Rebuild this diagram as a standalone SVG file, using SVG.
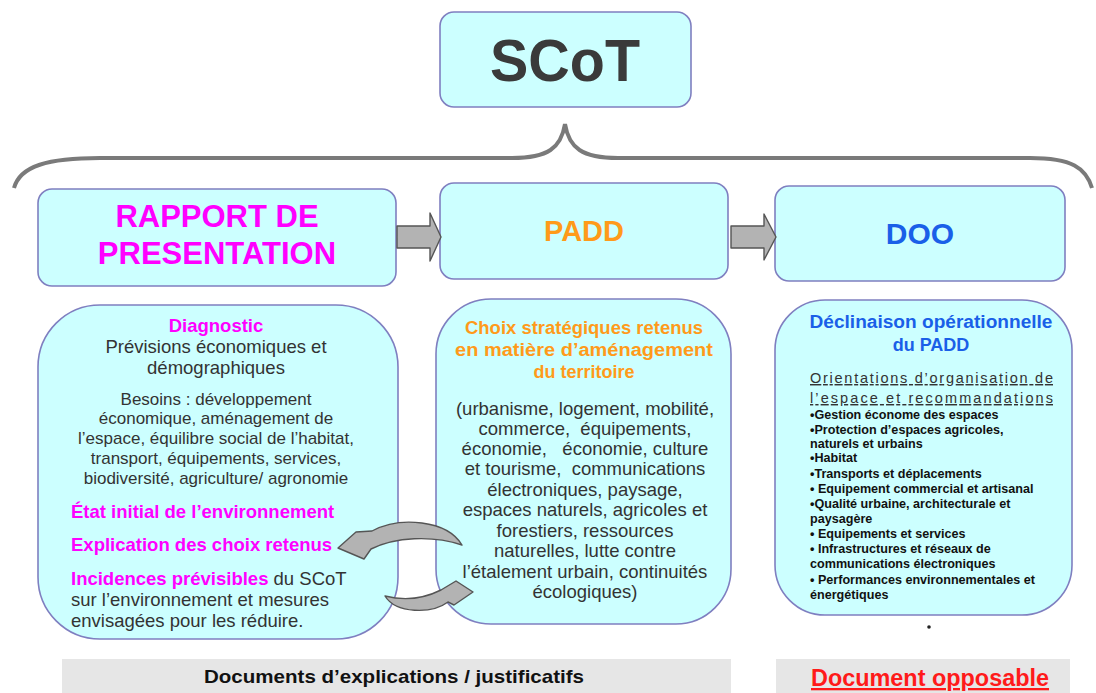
<svg xmlns="http://www.w3.org/2000/svg" width="1096" height="693" viewBox="0 0 1096 693">
<style>
.box{fill:#ccffff;stroke:#7f7fc0;stroke-width:1.6}
.t{font-family:"Liberation Sans",Arial,sans-serif}
.b{font-weight:bold}
.mag{fill:#ff00ff}
.org{fill:#ff9a1a}
.blu{fill:#1a5fe8}
.g{fill:#333333}
.blk{fill:#111111}
.arr{fill:#b3b3b3;stroke:#555555;stroke-width:1.4;stroke-linejoin:round}
.bar{fill:#e6e6e6}
</style>
<rect width="1096" height="693" fill="#ffffff"/>

<g id="scot">
  <rect class="box" x="440" y="12" width="251" height="95" rx="14"/>
  <text class="t b" x="565" y="81" font-size="60" text-anchor="middle" fill="#3a3a3a" textLength="150" lengthAdjust="spacingAndGlyphs">SCoT</text>
</g>

<g id="rapport">
  <rect class="box" x="38" y="189" width="358" height="97" rx="14"/>
  <text class="t b mag" x="217" y="227" font-size="31" text-anchor="middle">RAPPORT DE</text>
  <text class="t b mag" x="217" y="264" font-size="31" text-anchor="middle">PRESENTATION</text>
</g>

<g id="padd">
  <rect class="box" x="440" y="183" width="288" height="96" rx="14"/>
  <text class="t b org" x="584" y="241" font-size="29" text-anchor="middle">PADD</text>
</g>

<g id="doo">
  <rect class="box" x="775" y="186" width="290" height="95" rx="14"/>
  <text class="t b blu" x="920" y="244" font-size="30" text-anchor="middle">DOO</text>
</g>

<g id="rapport-detail">
  <rect class="box" x="38" y="305" width="360" height="334" rx="62"/>
  <text class="t b mag" x="216" y="332" font-size="18.5" text-anchor="middle">Diagnostic</text>
  <g class="t g" font-size="18.5" text-anchor="middle">
    <text x="216" y="353">Prévisions économiques et</text>
    <text x="216" y="374">démographiques</text>
  </g>
  <g class="t g" font-size="17" text-anchor="middle">
    <text x="216" y="405">Besoins : développement</text>
    <text x="216" y="424">économique, aménagement de</text>
    <text x="216" y="444">l’espace, équilibre social de l’habitat,</text>
    <text x="216" y="464">transport, équipements, services,</text>
    <text x="216" y="484">biodiversité, agriculture/ agronomie</text>
  </g>
  <text class="t b mag" x="71" y="518" font-size="18.5">État initial de l’environnement</text>
  <text class="t b mag" x="71" y="551" font-size="18.5">Explication des choix retenus</text>
  <text class="t" x="71" y="585" font-size="18.5"><tspan class="b mag">Incidences prévisibles</tspan><tspan class="g"> du SCoT</tspan></text>
  <text class="t g" x="71" y="606" font-size="18.5">sur l’environnement et mesures</text>
  <text class="t g" x="71" y="627" font-size="18.5">envisagées pour les réduire.</text>
</g>

<g id="padd-detail">
  <rect class="box" x="436" y="299" width="295" height="325" rx="55"/>
  <g class="t b org" font-size="18" text-anchor="middle">
    <text x="584" y="334" textLength="238" lengthAdjust="spacingAndGlyphs">Choix stratégiques retenus</text>
    <text x="584" y="356" textLength="258" lengthAdjust="spacingAndGlyphs">en matière d’aménagement</text>
    <text x="584" y="378">du territoire</text>
  </g>
  <g class="t g" font-size="18.5" text-anchor="middle">
    <text x="585" y="415">(urbanisme, logement, mobilité,</text>
    <text x="585" y="435">commerce,&#160; équipements,</text>
    <text x="585" y="455">économie,&#160;&#160; économie, culture</text>
    <text x="585" y="475">et tourisme,&#160; communications</text>
    <text x="585" y="496">électroniques, paysage,</text>
    <text x="585" y="516">espaces naturels, agricoles et</text>
    <text x="585" y="537">forestiers, ressources</text>
    <text x="585" y="557">naturelles, lutte contre</text>
    <text x="585" y="578">l’étalement urbain, continuités</text>
    <text x="585" y="598">écologiques)</text>
  </g>
</g>

<g id="doo-detail">
  <rect class="box" x="775" y="300" width="297" height="315" rx="50"/>
  <g class="t b blu" font-size="18" text-anchor="middle">
    <text x="931" y="328" textLength="243" lengthAdjust="spacingAndGlyphs">Déclinaison opérationnelle</text>
    <text x="931" y="351">du PADD</text>
  </g>
  <g class="t g" font-size="14.5" text-decoration="underline">
    <text x="810" y="383" textLength="243" lengthAdjust="spacing">Orientations d’organisation de</text>
    <text x="810" y="403" textLength="243" lengthAdjust="spacing">l’espace et recommandations</text>
  </g>
  <g class="t b blk" font-size="12.6">
    <text x="810" y="419">•Gestion économe des espaces</text>
    <text x="810" y="434">•Protection d’espaces agricoles,</text>
    <text x="810" y="448">naturels et urbains</text>
    <text x="810" y="462">•Habitat</text>
    <text x="810" y="478">•Transports et déplacements</text>
    <text x="810" y="493">• Equipement commercial et artisanal</text>
    <text x="810" y="508">•Qualité urbaine, architecturale et</text>
    <text x="810" y="523">paysagère</text>
    <text x="810" y="538">• Equipements et services</text>
    <text x="810" y="553">• Infrastructures et réseaux de</text>
    <text x="810" y="568">communications électroniques</text>
    <text x="810" y="584">• Performances environnementales et</text>
    <text x="810" y="599">énergétiques</text>
  </g>
  <circle cx="929" cy="627" r="1.8" fill="#222"/>
</g>

<g id="footer-left">
  <rect class="bar" x="62" y="659" width="669" height="34"/>
  <text class="t b blk" x="394" y="683" font-size="19" text-anchor="middle" textLength="380" lengthAdjust="spacingAndGlyphs">Documents d’explications / justificatifs</text>
</g>

<g id="footer-right">
  <rect class="bar" x="776" y="659" width="294" height="34"/>
  <text class="t b" x="930" y="686" font-size="23" text-anchor="middle" fill="#ff1a1a" text-decoration="underline" textLength="238" lengthAdjust="spacingAndGlyphs">Document opposable</text>
</g>

<g id="connectors">
  <path d="M14,188 C20,166 48,158 100,158 L512,158 C548,158 561,148 565,124 C569,148 582,158 618,158 L1030,158 C1072,158 1086,168 1092,188" fill="none" stroke="#7a7a7a" stroke-width="4"/>
  <path class="arr" d="M397,226 L430,226 L430,213 L441,237 L430,261 L430,248 L397,248 Z"/>
  <path class="arr" d="M731,226 L764,226 L764,214 L776,237 L764,260 L764,248 L731,248 Z"/>
  <path class="arr" d="M462,545 C447,520 400,516 372,531 L356,532 L338,548 L364,559 L371,549 C395,537 432,535 462,545 Z"/>
  <path class="arr" d="M385,596 C396,614 432,614 448,602 L454,605 L473,592 L456,581 L441,590 C425,598 405,601 385,596 Z"/>
</g>
</svg>
